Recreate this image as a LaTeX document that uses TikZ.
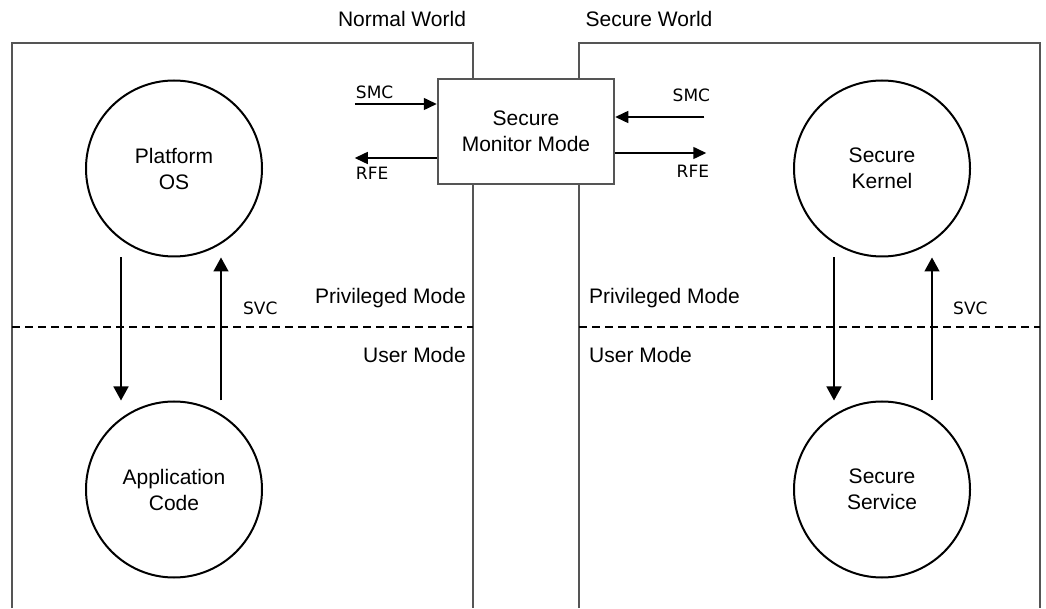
\documentclass[tikz,border=0pt]{standalone}
\usepackage{fontspec}
\setmainfont{Liberation Sans}
\newfontfamily\cmdfont{DejaVu Sans}
\usetikzlibrary{arrows.meta, positioning}
\definecolor{wallcolor}{RGB}{85, 85, 85}
\definecolor{arrowcolor}{RGB}{0, 0, 0}
\tikzset{
  worldline/.style={draw=wallcolor, line width=2pt},
  modeline/.style={draw=black, line width=1.5pt, dash pattern=on 8pt off 5pt},
  taskcircle/.style={circle, draw=black, line width=2pt, minimum size=176pt, inner sep=0pt, align=center, font=\fontsize{21}{26}\selectfont},
  monitorbox/.style={rectangle, draw=wallcolor, line width=2.5pt, fill=white, minimum width=176pt, minimum height=105pt, align=center, font=\fontsize{21}{26}\selectfont},
  modetext/.style={inner sep=0pt, font=\fontsize{21}{25}\selectfont},
  cmdtext/.style={inner sep=0pt, font=\cmdfont\fontsize{17}{20}\selectfont},
  arr/.style={-{Triangle[length=14pt, width=15pt]}, line width=1.5pt, color=arrowcolor},
  smcarr/.style={-{Triangle[length=13pt, width=12pt]}, line width=1.5pt, color=arrowcolor}
}

\begin{document}
\begin{tikzpicture}[x=1pt, y=1pt]
  \useasboundingbox (0,0) rectangle (1046,608);

  % the two worlds
  \draw[worldline] (12,0) -- (12,565) -- (473,565) -- (473,0);
  \draw[worldline] (579,0) -- (579,565) -- (1040,565) -- (1040,0);
  \draw[modeline] (12,281) -- (473,281);
  \draw[modeline] (579,281) -- (1040,281);

  \node[modetext, anchor=base] (normal) at (402,581) {Normal World};
  \node[modetext, anchor=base] (secure) at (649,581) {Secure World};

  \node[modetext, anchor=base east] (privl) at (466,304) {Privileged Mode};
  \node[modetext, anchor=base east] (userl) at (466,245) {User Mode};
  \node[modetext, anchor=base west] (privr) at (589,304) {Privileged Mode};
  \node[modetext, anchor=base west] (userr) at (589,245) {User Mode};

  % tasks
  \node[taskcircle] (platform) at (174,439.5) {Platform\\OS};
  \node[taskcircle, below=143pt of platform] (app) {Application\\Code};
  \node[taskcircle] (kernel) at (882,439.5) {Secure\\Kernel};
  \node[taskcircle, below=143pt of kernel] (service) {Secure\\Service};

  \node[monitorbox] (monitor) at (526,476.5) {Secure\\Monitor Mode};

  \draw[arr] ([xshift=-53pt]platform.south) -- ([xshift=-53pt]app.north);
  \draw[arr] ([xshift=47pt]app.north) -- ([xshift=47pt]platform.south);
  \draw[arr] ([xshift=-48pt]kernel.south) -- ([xshift=-48pt]service.north);
  \draw[arr] ([xshift=50pt]service.north) -- ([xshift=50pt]kernel.south);

  \node[cmdtext, anchor=base west] (svcl) at (243,293) {SVC};
  \node[cmdtext, anchor=base west] (svcr) at (953,293) {SVC};

  % monitor calls
  \coordinate (smcin)  at ([xshift=-82pt, yshift=27.5pt]monitor.west);
  \coordinate (rfeout) at ([xshift=-82pt, yshift=-26.5pt]monitor.west);
  \coordinate (smcsec) at ([xshift=89pt, yshift=14.5pt]monitor.east);
  \coordinate (rfesec) at ([xshift=91pt, yshift=-21.5pt]monitor.east);

  \draw[smcarr] (smcin) -- (smcin -| monitor.west);
  \draw[smcarr] (rfeout -| monitor.west) -- (rfeout);
  \draw[smcarr] (smcsec) -- (smcsec -| monitor.east);
  \draw[smcarr] (rfesec -| monitor.east) -- (rfesec);

  \node[cmdtext, anchor=base west] (smcl) at ([xshift=1pt, yshift=5pt]smcin) {SMC};
  \node[cmdtext, anchor=base west] (rfel) at ([xshift=1pt, yshift=-22pt]rfeout) {RFE};
  \node[cmdtext, anchor=base east] (smcr) at ([xshift=6pt, yshift=15pt]smcsec) {SMC};
  \node[cmdtext, anchor=base east] (rfer) at ([xshift=3pt, yshift=-25pt]rfesec) {RFE};

\end{tikzpicture}
\end{document}
